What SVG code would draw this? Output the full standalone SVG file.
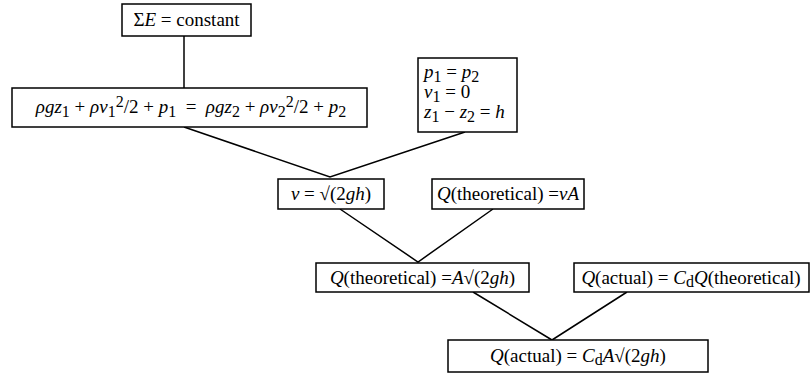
<svg xmlns="http://www.w3.org/2000/svg" width="810" height="389" viewBox="0 0 810 389" font-family="Liberation Serif">
<style>
rect{fill:#fff;stroke:#000;stroke-width:1.5}
.c path{fill:none;stroke:#000;stroke-width:1.5}
text{font-size:19px;fill:#000}
.m{text-anchor:middle}
.i{font-style:italic}
.s{font-size:16px}
</style>
<rect x="0" y="0" width="810" height="389" style="stroke:none"/>
<g class="c" id="connectors">
<path d="M184,36V88"/>
<path d="M184,127L330,177L465,132"/>
<path d="M340,209L418,262L493,209"/>
<path d="M473,292L552,340L627,292"/>
</g>
<g id="nodes" font-family="Liberation Serif">
<g id="n1"><rect x="122" y="4" width="129" height="32"/>
<text class="m" x="186.5" y="26" font-family="Liberation Serif">Σ<tspan class="i">E</tspan> = constant</text></g>
<g id="n2"><rect x="12" y="88" width="355" height="39"/>
<text class="m" x="191" y="113" font-family="Liberation Serif"><tspan class="i">ρgz</tspan><tspan class="s" dy="4">1</tspan><tspan dy="-4"> + </tspan><tspan class="i">ρv</tspan><tspan class="s" dy="4">1</tspan><tspan class="s" dy="-10">2</tspan><tspan dy="6">/2 + </tspan><tspan class="i">p</tspan><tspan class="s" dy="4">1</tspan><tspan dy="-4" xml:space="preserve">  =  </tspan><tspan class="i">ρgz</tspan><tspan class="s" dy="4">2</tspan><tspan dy="-4"> + </tspan><tspan class="i">ρv</tspan><tspan class="s" dy="4">2</tspan><tspan class="s" dy="-10">2</tspan><tspan dy="6">/2 + </tspan><tspan class="i">p</tspan><tspan class="s" dy="4">2</tspan></text></g>
<g id="n3"><rect x="418" y="58" width="99" height="74"/>
<text x="424" y="78" font-family="Liberation Serif"><tspan class="i">p</tspan><tspan class="s" dy="4">1</tspan><tspan dy="-4"> = </tspan><tspan class="i">p</tspan><tspan class="s" dy="4">2</tspan></text>
<text x="424" y="98" font-family="Liberation Serif"><tspan class="i">v</tspan><tspan class="s" dy="4">1</tspan><tspan dy="-4"> = 0</tspan></text>
<text x="424" y="118" font-family="Liberation Serif"><tspan class="i">z</tspan><tspan class="s" dy="4">1</tspan><tspan dy="-4"> − </tspan><tspan class="i">z</tspan><tspan class="s" dy="4">2</tspan><tspan dy="-4"> = </tspan><tspan class="i">h</tspan></text></g>
<g id="n4"><rect x="278" y="179" width="106" height="30"/>
<text class="m" x="331" y="200" font-family="Liberation Serif"><tspan class="i">v</tspan> = √(2<tspan class="i">gh</tspan>)</text></g>
<g id="n5"><rect x="432" y="179" width="152" height="30"/>
<text class="m" x="508" y="200" font-family="Liberation Serif"><tspan class="i">Q</tspan>(theoretical) =<tspan class="i">vA</tspan></text></g>
<g id="n6"><rect x="316" y="263" width="213" height="29"/>
<text class="m" x="422.5" y="284" font-family="Liberation Serif"><tspan class="i">Q</tspan>(theoretical) =<tspan class="i">A</tspan>√(2<tspan class="i">gh</tspan>)</text></g>
<g id="n7"><rect x="574" y="263" width="235" height="29"/>
<text class="m" x="691" y="284" font-family="Liberation Serif"><tspan class="i">Q</tspan>(actual) = <tspan class="i">C</tspan><tspan class="s" dy="3">d</tspan><tspan class="i" dy="-3">Q</tspan>(theoretical)</text></g>
<g id="n8"><rect x="448" y="340" width="260" height="32"/>
<text class="m" x="578" y="362" font-family="Liberation Serif"><tspan class="i">Q</tspan>(actual) = <tspan class="i">C</tspan><tspan class="s" dy="3">d</tspan><tspan class="i" dy="-3">A</tspan>√(2<tspan class="i">gh</tspan>)</text></g>
</g>
</svg>
